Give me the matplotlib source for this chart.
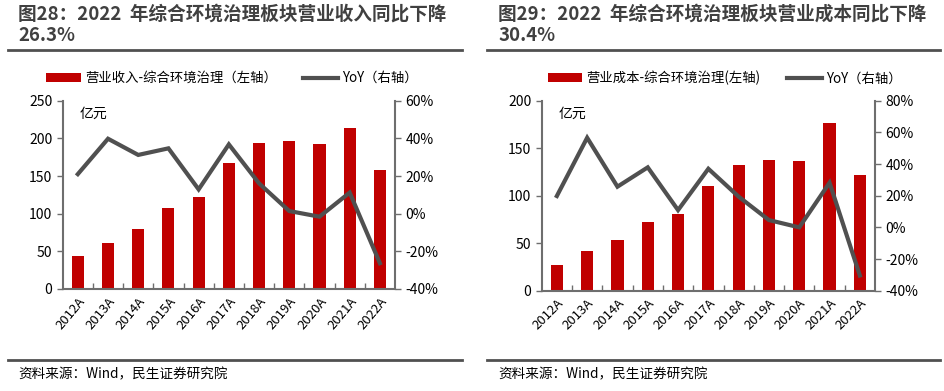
import matplotlib
matplotlib.use("Agg")
import matplotlib.pyplot as plt
from matplotlib.patches import Patch
from matplotlib.lines import Line2D
from matplotlib.ticker import FuncFormatter, MultipleLocator

plt.rcParams['font.family'] = ['Noto Sans CJK SC', 'DejaVu Sans']

years = ["2012A", "2013A", "2014A", "2015A", "2016A", "2017A", "2018A", "2019A", "2020A", "2021A", "2022A"]

revenue = [44, 61, 80, 108, 122, 167, 194, 196, 193, 214, 158]
revenue_yoy = [21.0, 39.8, 31.2, 34.7, 12.9, 36.8, 16.1, 1.4, -1.6, 11.2, -26.3]

cost = [27, 42, 53, 72, 81, 110, 132, 138, 137, 176, 122]
cost_yoy = [19.8, 56.6, 25.7, 37.9, 10.9, 37.0, 19.4, 4.6, 0.0, 28.2, -30.4]

title_left = "图28：2022  年综合环境治理板块营业收入同比下降\n26.3%"
title_right = "图29：2022  年综合环境治理板块营业成本同比下降\n30.4%"
legend_left = ["营业收入-综合环境治理（左轴）", "YoY（右轴）"]
legend_right = ["营业成本-综合环境治理(左轴)", "YoY（右轴）"]
unit = "亿元"
source = "资料来源：Wind，民生证券研究院"

RED = "#C00000"
LINE = "#505050"
TXT = "#404040"
SPINE = "#6e6e6e"

W, H = 944, 391
fig = plt.figure(figsize=(W / 100, H / 100), dpi=100)


def fx(px):
    return px / W


def fy(py):
    return 1 - py / H


def panel(x0, x1, ytop, ybot, bars, yoy, lmax, lstep, rmin, rmax, rstep, rot):
    ax = fig.add_axes([fx(x0), fy(ybot), fx(x1 - x0), (ybot - ytop) / H])
    x = list(range(len(years)))
    ax.bar(x, bars, width=0.4, color=RED, zorder=2)
    ax.set_xlim(-0.5, len(years) - 0.5)
    ax.set_ylim(0, lmax)
    ax.yaxis.set_major_locator(MultipleLocator(lstep))
    ax.set_xticks(x)
    ax.set_xticklabels(years, rotation=rot, ha='right', va='top',
                       rotation_mode='anchor', fontsize=9.5, color='black')
    ax.tick_params(axis='x', which='major', length=0, pad=4)
    ax.set_xticks([i + 0.5 for i in x[:-1]], minor=True)
    ax.tick_params(axis='x', which='minor', direction='in', length=4, width=1, color=SPINE)
    ax.tick_params(axis='y', direction='out', length=4, width=1, color=SPINE,
                   labelsize=10, labelcolor='black')
    ax.spines['top'].set_visible(False)
    ax.spines['right'].set_visible(False)
    for s in ['left', 'bottom']:
        ax.spines[s].set_color(SPINE)
        ax.spines[s].set_linewidth(1.5)
    ax.text(0.05, 0.97, unit, transform=ax.transAxes, ha='left', va='top',
            fontsize=10, color='black')

    ax2 = ax.twinx()
    ax2.plot(x, yoy, color=LINE, lw=3, solid_joinstyle='miter', zorder=3)
    ax2.set_ylim(rmin, rmax)
    ax2.yaxis.set_major_locator(MultipleLocator(rstep))
    ax2.yaxis.set_major_formatter(FuncFormatter(lambda v, p: f"{v:.0f}%"))
    ax2.tick_params(axis='y', direction='out', length=4, width=1, color=SPINE,
                    labelsize=10, labelcolor='black')
    for s in ['top', 'left', 'bottom']:
        ax2.spines[s].set_visible(False)
    ax2.spines['right'].set_color(SPINE)
    ax2.spines['right'].set_linewidth(1.5)
    return ax, ax2


def header(xl, xr, xtext, title, leg, legx):
    fig.text(fx(xtext), fy(5), title, ha='left', va='top', fontsize=13.4,
             fontweight='bold', color=TXT, linespacing=1.15)
    fig.add_artist(Line2D([fx(xl), fx(xr)], [fy(50), fy(50)], color='#505050', lw=2))
    fig.add_artist(Line2D([fx(xl), fx(xr)], [fy(360), fy(360)], color='#505050', lw=2))
    fig.text(fx(xtext), fy(374), source, ha='left', va='center', fontsize=9.8, color='black')
    handles = [Patch(facecolor=RED, edgecolor='none'),
               Line2D([0], [0], color=LINE, lw=3)]
    fig.legend(handles, leg, loc='center', bbox_to_anchor=(fx(legx), fy(78)), ncol=2,
               frameon=False, fontsize=9.6, handlelength=2.6, handleheight=0.6,
               handletextpad=0.3, columnspacing=2.0)


panel(62.7, 395, 100.7, 289, revenue, revenue_yoy, 250, 50, -40, 60, 20, 50)
panel(541.7, 875, 100.7, 290.7, cost, cost_yoy, 200, 50, -40, 80, 20, 45)

header(8, 462, 18, title_left, legend_left, 232)
header(487, 940, 498, title_right, legend_right, 724.5)

fig.savefig("out.png", dpi=100)
